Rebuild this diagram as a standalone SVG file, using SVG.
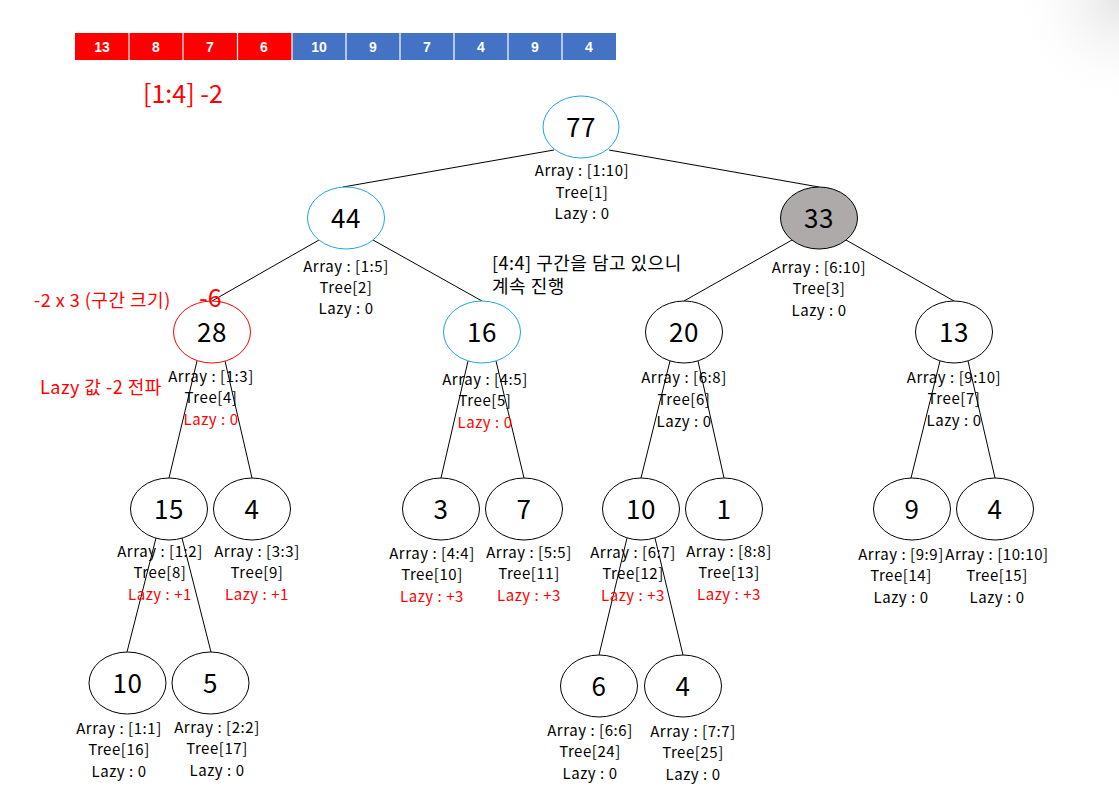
<svg xmlns="http://www.w3.org/2000/svg" width="1119" height="806" viewBox="0 0 1119 806">
<defs>
<radialGradient id="shade" cx="1119" cy="0" r="110" gradientUnits="userSpaceOnUse">
<stop offset="0" stop-color="#e6e6e6"/>
<stop offset="1" stop-color="#ffffff" stop-opacity="0"/>
</radialGradient>
<style>
.n{fill:#fff;stroke:#000;stroke-width:1}
.cy{stroke:#1FA5DE}
.rd{stroke:#FF0000}
.gr{fill:#AEAAAA}
.v{font-family:"Noto Sans CJK KR","Noto Sans",sans-serif;font-size:26px;letter-spacing:0.5px;fill:#000;text-anchor:middle;dominant-baseline:central}
.l{font-family:"Noto Sans CJK KR","Noto Sans",sans-serif;font-size:15px;letter-spacing:0.55px;fill:#000;text-anchor:middle;dominant-baseline:central}
.r{fill:#FF0000}
.e line{stroke:#000;stroke-width:1}
.cell{font-family:"Liberation Sans",Arial,sans-serif;font-weight:bold;font-size:14px;fill:#fff;text-anchor:middle;dominant-baseline:central}
.note{font-family:"Noto Sans CJK KR","Noto Sans",sans-serif;font-size:18px;letter-spacing:0.5px;dominant-baseline:central}
</style>
</defs>
<rect width="1119" height="806" fill="#fff"/>
<rect x="1000" y="0" width="119" height="120" fill="url(#shade)"/>

<g id="array">
<rect x="75" y="33" width="217" height="27" fill="#FF0000"/>
<rect x="292" y="33" width="324" height="27" fill="#4472C4"/>
<g stroke="#fff" stroke-width="1.2">
<line x1="129" y1="33" x2="129" y2="60"/><line x1="183" y1="33" x2="183" y2="60"/><line x1="237.5" y1="33" x2="237.5" y2="60"/><line x1="292" y1="33" x2="292" y2="60"/><line x1="346" y1="33" x2="346" y2="60"/><line x1="400" y1="33" x2="400" y2="60"/><line x1="454" y1="33" x2="454" y2="60"/><line x1="508" y1="33" x2="508" y2="60"/><line x1="562" y1="33" x2="562" y2="60"/>
</g>
<text class="cell" x="102" y="47">13</text><text class="cell" x="156" y="47">8</text><text class="cell" x="210" y="47">7</text><text class="cell" x="264" y="47">6</text><text class="cell" x="319" y="47">10</text><text class="cell" x="373" y="47">9</text><text class="cell" x="427" y="47">7</text><text class="cell" x="481" y="47">4</text><text class="cell" x="535" y="47">9</text><text class="cell" x="589" y="47">4</text>
</g>

<text class="note r" x="143" y="92" style="font-size:25px;letter-spacing:0">[1:4] -2</text>

<g id="connectors" class="e">
<line x1="554" y1="150" x2="343" y2="187"/>
<line x1="609" y1="150" x2="819" y2="187"/>
<line x1="319" y1="240" x2="212" y2="301"/>
<line x1="373" y1="240" x2="482" y2="301"/>
<line x1="792" y1="240" x2="684" y2="301"/>
<line x1="846" y1="240" x2="954" y2="301"/>
<line x1="197" y1="361" x2="169" y2="478"/>
<line x1="225" y1="361" x2="252" y2="478"/>
<line x1="468" y1="361" x2="441" y2="478"/>
<line x1="496" y1="361" x2="524" y2="478"/>
<line x1="670" y1="361" x2="641" y2="478"/>
<line x1="698" y1="361" x2="724" y2="478"/>
<line x1="940" y1="361" x2="911" y2="478"/>
<line x1="968" y1="361" x2="995" y2="478"/>
<line x1="156" y1="538" x2="127" y2="652"/>
<line x1="182" y1="538" x2="211" y2="652"/>
<line x1="627" y1="538" x2="599" y2="655"/>
<line x1="655" y1="538" x2="683" y2="655"/>
</g>

<g id="n1"><ellipse class="n cy" cx="581" cy="127" rx="38" ry="31"/><text class="v" x="581" y="125">77</text>
<text class="l" x="582" y="169">Array : [1:10]</text><text class="l" x="582" y="191">Tree[1]</text><text class="l" x="582" y="212">Lazy : 0</text></g>

<g id="n2"><ellipse class="n cy" cx="346" cy="218" rx="38.5" ry="31"/><text class="v" x="346" y="216">44</text>
<text class="l" x="346" y="265">Array : [1:5]</text><text class="l" x="346" y="286">Tree[2]</text><text class="l" x="346" y="307">Lazy : 0</text></g>

<g id="n3"><ellipse class="n gr" cx="819" cy="218" rx="38.5" ry="31"/><text class="v" x="819" y="216">33</text>
<text class="l" x="819" y="266">Array : [6:10]</text><text class="l" x="819" y="287">Tree[3]</text><text class="l" x="819" y="309">Lazy : 0</text></g>

<g id="n4"><ellipse class="n rd" cx="212" cy="332" rx="38.5" ry="31"/><text class="v" x="212" y="330">28</text>
<text class="l" x="211" y="375">Array : [1:3]</text><text class="l" x="211" y="396">Tree[4]</text><text class="l r" x="211" y="418">Lazy : 0</text></g>

<g id="n5"><ellipse class="n cy" cx="482" cy="332" rx="38.5" ry="31"/><text class="v" x="482" y="330">16</text>
<text class="l" x="485" y="378">Array : [4:5]</text><text class="l" x="485" y="399">Tree[5]</text><text class="l r" x="485" y="421">Lazy : 0</text></g>

<g id="n6"><ellipse class="n" cx="684" cy="332" rx="38.5" ry="31"/><text class="v" x="684" y="330">20</text>
<text class="l" x="684" y="376">Array : [6:8]</text><text class="l" x="684" y="398">Tree[6]</text><text class="l" x="684" y="420">Lazy : 0</text></g>

<g id="n7"><ellipse class="n" cx="954" cy="332" rx="38.5" ry="31"/><text class="v" x="954" y="330">13</text>
<text class="l" x="954" y="376">Array : [9:10]</text><text class="l" x="954" y="397">Tree[7]</text><text class="l" x="954" y="419">Lazy : 0</text></g>

<g id="n8"><ellipse class="n" cx="169" cy="509" rx="38.5" ry="31"/><text class="v" x="169" y="507">15</text>
<text class="l" x="160" y="550">Array : [1:2]</text><text class="l" x="160" y="571">Tree[8]</text><text class="l r" x="160" y="593">Lazy : +1</text></g>

<g id="n9"><ellipse class="n" cx="252" cy="509" rx="38.5" ry="31"/><text class="v" x="252" y="507">4</text>
<text class="l" x="257" y="550">Array : [3:3]</text><text class="l" x="257" y="571">Tree[9]</text><text class="l r" x="257" y="593">Lazy : +1</text></g>

<g id="n10"><ellipse class="n" cx="441" cy="509" rx="38.5" ry="31"/><text class="v" x="441" y="507">3</text>
<text class="l" x="432" y="552">Array : [4:4]</text><text class="l" x="432" y="573">Tree[10]</text><text class="l r" x="432" y="595">Lazy : +3</text></g>

<g id="n11"><ellipse class="n" cx="524" cy="509" rx="38.5" ry="31"/><text class="v" x="524" y="507">7</text>
<text class="l" x="529" y="551">Array : [5:5]</text><text class="l" x="529" y="572">Tree[11]</text><text class="l r" x="529" y="594">Lazy : +3</text></g>

<g id="n12"><ellipse class="n" cx="641" cy="509" rx="38.5" ry="31"/><text class="v" x="641" y="507">10</text>
<text class="l" x="633" y="551">Array : [6:7]</text><text class="l" x="633" y="572">Tree[12]</text><text class="l r" x="633" y="594">Lazy : +3</text></g>

<g id="n13"><ellipse class="n" cx="724" cy="509" rx="38.5" ry="31"/><text class="v" x="724" y="507">1</text>
<text class="l" x="729" y="550">Array : [8:8]</text><text class="l" x="729" y="571">Tree[13]</text><text class="l r" x="729" y="593">Lazy : +3</text></g>

<g id="n14"><ellipse class="n" cx="912" cy="509" rx="38.5" ry="31"/><text class="v" x="912" y="507">9</text>
<text class="l" x="901" y="553">Array : [9:9]</text><text class="l" x="901" y="574">Tree[14]</text><text class="l" x="901" y="596">Lazy : 0</text></g>

<g id="n15"><ellipse class="n" cx="995" cy="509" rx="38.5" ry="31"/><text class="v" x="995" y="507">4</text>
<text class="l" x="997" y="553">Array : [10:10]</text><text class="l" x="997" y="574">Tree[15]</text><text class="l" x="997" y="596">Lazy : 0</text></g>

<g id="n16"><ellipse class="n" cx="127.5" cy="683" rx="38.5" ry="31"/><text class="v" x="127.5" y="681">10</text>
<text class="l" x="119" y="727">Array : [1:1]</text><text class="l" x="119" y="748">Tree[16]</text><text class="l" x="119" y="770">Lazy : 0</text></g>

<g id="n17"><ellipse class="n" cx="210.5" cy="683" rx="38.5" ry="31"/><text class="v" x="210.5" y="681">5</text>
<text class="l" x="217" y="726">Array : [2:2]</text><text class="l" x="217" y="747">Tree[17]</text><text class="l" x="217" y="769">Lazy : 0</text></g>

<g id="n24"><ellipse class="n" cx="599" cy="686" rx="38.5" ry="31"/><text class="v" x="599" y="684">6</text>
<text class="l" x="590" y="729">Array : [6:6]</text><text class="l" x="590" y="750">Tree[24]</text><text class="l" x="590" y="772">Lazy : 0</text></g>

<g id="n25"><ellipse class="n" cx="683" cy="686" rx="38.5" ry="31"/><text class="v" x="683" y="684">4</text>
<text class="l" x="693" y="730">Array : [7:7]</text><text class="l" x="693" y="751">Tree[25]</text><text class="l" x="693" y="773">Lazy : 0</text></g>

<g id="notes">
<text class="note r" x="34" y="299">-2 x 3 (구간 크기)</text>
<text class="note r" x="199" y="296" style="font-size:25px;letter-spacing:0">-6</text>
<text class="note r" x="40" y="386">Lazy 값 -2 전파</text>
<text class="note" x="492" y="262">[4:4] 구간을 담고 있으니</text>
<text class="note" x="492" y="285">계속 진행</text>
</g>
</svg>
